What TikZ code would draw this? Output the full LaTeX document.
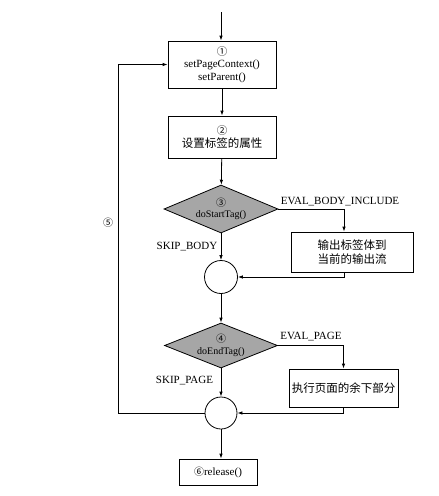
\documentclass[tikz,border=0pt]{standalone}
\usepackage{fontspec}
\setmainfont{Liberation Serif}
\newfontfamily\cjk{Noto Sans CJK SC}
\usetikzlibrary{arrows.meta, shapes.geometric}

\begin{document}
\begin{tikzpicture}[
    x=1pt, y=-1pt,
    line width=0.8pt,
    proc/.style={draw, fill=white, inner sep=2pt, align=center, font=\fontsize{11}{12.5}\selectfont},
    test/.style={draw, diamond, fill=gray!70, aspect=2.4, inner sep=0pt, align=center, font=\fontsize{10}{11.5}\selectfont},
    merge/.style={draw, circle, inner sep=0pt},
    arr/.style={-{Latex[length=5pt, width=3.5pt]}},
    lbl/.style={font=\fontsize{11}{12}\selectfont},
]
\useasboundingbox (0,0) rectangle (439,496);

% =============================================================================
% Main column
% =============================================================================
\coordinate (entry) at (221,12);

\node[proc, minimum width=108pt, minimum height=47pt] (setctx) at (222,64.5)
    {{\cjk\fontsize{10.5}{12}\selectfont ①}\\setPageContext()\\setParent()};
\node[proc, minimum width=108pt, minimum height=42pt] (attrs) at (222,137)
    {{\cjk\fontsize{10.5}{12}\selectfont ②}\\[1pt]{\cjk\fontsize{11.5}{13}\selectfont 设置标签的属性}};

\node[test, minimum width=114pt, minimum height=48pt] (start) at (221,209)
    {{\cjk ③}\\doStartTag()};
\node[merge, minimum size=33pt] (join1) at (221,277) {};

\node[test, minimum width=113pt, minimum height=45pt] (end) at (221,345.5)
    {{\cjk ④}\\doEndTag()};
\node[merge, minimum size=32pt] (join2) at (221,413) {};

\node[proc, minimum width=78pt, minimum height=26pt] (release) at (218,472)
    {{\cjk\fontsize{10}{12}\selectfont ⑥}release()};

% Side boxes
\node[proc, minimum width=122pt, minimum height=40pt, font=\cjk\fontsize{11.5}{14}\selectfont] (body) at (352,252)
    {输出标签体到\\当前的输出流};
\node[proc, minimum width=109pt, minimum height=38pt, font=\cjk\fontsize{11.5}{14}\selectfont] (rest) at (343.5,388)
    {执行页面的余下部分};

% Loop corner
\coordinate (loop) at (118,413);

% =============================================================================
% Connectors
% =============================================================================
\draw[arr] (entry) -- (entry |- setctx.north);
\draw[arr] (setctx) -- (attrs);
\draw[arr] (attrs) -- (start);
\draw[arr] (start.east) -| ([xshift=-8pt]body.north);
\draw[arr] (start) -- (join1);
\draw[arr] ([xshift=-8pt]body.south) |- (join1.east);
\draw[arr] (join1) -- (end);
\draw[arr] (end.east) -| (rest.north);
\draw[arr] (end) -- (join2);
\draw[arr] (rest.south) |- (join2.east);
\draw[arr] (join2) -- (join2 |- release.north);
\draw[arr] (join2.west) -- (loop) |- (setctx.west);

% Labels
\node[lbl] (evalbody) at (340,202) {EVAL\_BODY\_INCLUDE};
\node[lbl] (skipbody) at (187,247) {SKIP\_BODY};
\node[lbl] (evalpage) at (311,337) {EVAL\_PAGE};
\node[lbl] (skippage) at (184.5,381) {SKIP\_PAGE};
\node[font=\cjk\fontsize{10}{12}\selectfont] (five) at (108,223) {⑤};

\end{tikzpicture}
\end{document}
